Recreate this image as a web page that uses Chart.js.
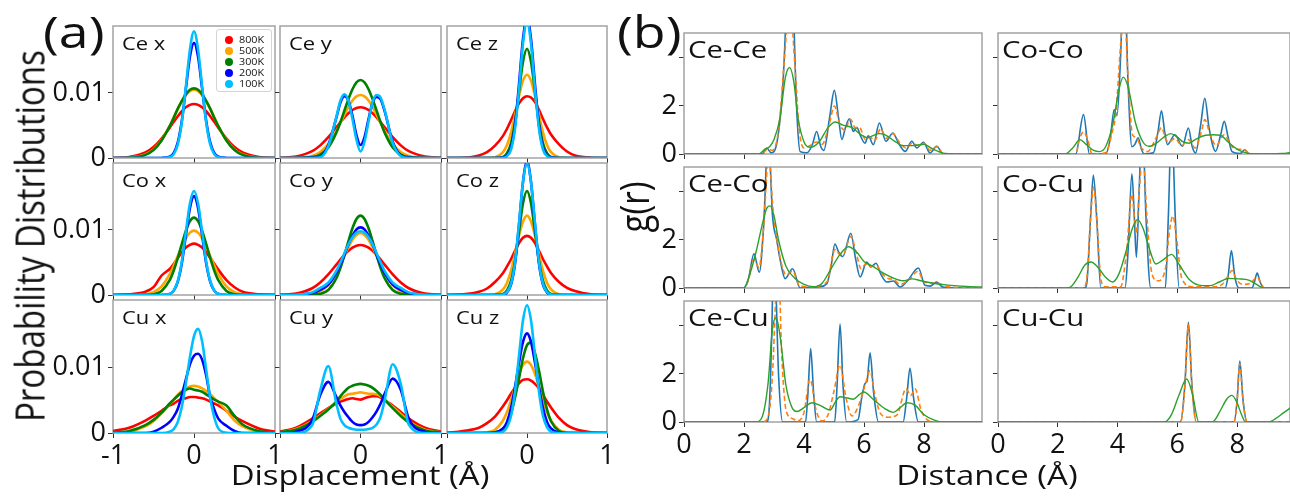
<!DOCTYPE html>
<html>
<head>
<meta charset="utf-8">
<script src="https://cdn.jsdelivr.net/npm/chart.js@4.4.1/dist/chart.umd.min.js"></script>
<style>
  html, body { margin: 0; padding: 0; background: #fff; }
  #fig { position: relative; width: 1290px; height: 496px; overflow: hidden; font-family: 'Open Sans', sans-serif; color: #111; }
  #fig canvas { position: absolute; }
  .t { position: absolute; line-height: 1; white-space: nowrap; transform-origin: 0 0; transform: scaleX(1.22); }
  .c { position: absolute; line-height: 1; white-space: nowrap; transform: translate(-50%, 0) scaleX(1.22); }
  .v { position: absolute; line-height: 1; white-space: nowrap; transform: translate(-50%, -50%) scaleX(1.22) rotate(-90deg); }
  .legend { position: absolute; left: 216px; top: 29px; width: 56px; height: 63px; box-sizing: border-box;
            border: 1px solid #d4d4d4; border-radius: 3px; background: #fff; }
  .legend div { position: absolute; left: 0; height: 10px; }
  .legend i { position: absolute; left: 8px; top: 1px; width: 8px; height: 8px; border-radius: 50%; }
  .legend span { position: absolute; left: 22px; top: 0; font-size: 9px; line-height: 10px; transform-origin: 0 50%; transform: scaleX(1.2); }
</style>
</head>
<body>
<div id="fig"></div>
<script>
// ---- (a) displacement distributions -------------------------------------------------
var dispX = [-1, -0.8, -0.6, -0.5, -0.4, -0.3, -0.25, -0.2, -0.15, -0.1, -0.05, 0,
             0.05, 0.1, 0.15, 0.2, 0.25, 0.3, 0.4, 0.5, 0.6, 0.8, 1];
var temps = ['800K', '500K', '300K', '200K', '100K'];
var dispTicks = [-1, 0, 1];
var dispTickLabelsFirst = ['-1', '0', '1'];
var dispTickLabelsRest = ['', '0', '1'];
var probTicks = [0, 0.01];
var probTickLabels = ['0', '0.01'];

var ceX800 = [0, 0.00014, 0.00084, 0.00168, 0.0030, 0.00467, 0.00557, 0.00643, 0.00719, 0.00779, 0.00817, 0.0083, 0.00817, 0.00779, 0.00719, 0.00643, 0.00557, 0.00467, 0.0030, 0.00168, 0.00084, 0.00014, 0];
var ceX500 = [0, 0.00005, 0.00053, 0.00131, 0.00277, 0.00496, 0.00624, 0.00753, 0.0087, 0.00966, 0.01028, 0.0105, 0.01028, 0.00966, 0.0087, 0.00753, 0.00624, 0.00496, 0.00277, 0.00131, 0.00053, 0.00005, 0];
var ceX300 = [0, 0.00004, 0.00048, 0.00122, 0.0027, 0.0049, 0.0062, 0.0076, 0.0088, 0.0098, 0.0105, 0.0107, 0.0105, 0.0098, 0.0088, 0.0076, 0.0062, 0.0049, 0.0027, 0.00122, 0.00048, 0.00004, 0];
var ceX200 = [0, 0, 0, 0, 0.00001, 0.0002, 0.00078, 0.0024, 0.00575, 0.0107, 0.0156, 0.0177, 0.0156, 0.0107, 0.00575, 0.0024, 0.00078, 0.0002, 0.00001, 0, 0, 0, 0];
var ceX100 = [0, 0, 0, 0, 0, 0.00013, 0.0006, 0.0021, 0.0055, 0.011, 0.0167, 0.0195, 0.0167, 0.011, 0.0055, 0.0021, 0.0006, 0.00013, 0, 0, 0, 0, 0];

var ceY800 = [0.00003, 0.00023, 0.00105, 0.00194, 0.0032, 0.00473, 0.0055, 0.00625, 0.00688, 0.00738, 0.00769, 0.0078, 0.00769, 0.00738, 0.00688, 0.00625, 0.0055, 0.00473, 0.0032, 0.00194, 0.00105, 0.00023, 0.00003];
var ceY500 = [0, 0.00002, 0.00032, 0.00091, 0.00213, 0.00414, 0.00537, 0.00664, 0.00784, 0.00883, 0.00948, 0.0097, 0.00948, 0.00883, 0.00784, 0.00664, 0.00537, 0.00414, 0.00213, 0.00091, 0.00032, 0.00002, 0];
var ceY300 = [0, 0, 0.00013, 0.00053, 0.00162, 0.0039, 0.0055, 0.00728, 0.00906, 0.01058, 0.01163, 0.012, 0.01163, 0.01058, 0.00906, 0.00728, 0.0055, 0.0039, 0.00162, 0.00053, 0.00013, 0, 0];
var ceY200 = [0, 0, 0.00002, 0.0002, 0.002, 0.0062, 0.0085, 0.0095, 0.0088, 0.0065, 0.0035, 0.002, 0.0032, 0.006, 0.0085, 0.0094, 0.009, 0.0072, 0.0025, 0.0004, 0.00002, 0, 0];
var ceY100 = [0, 0, 0, 0.0001, 0.0018, 0.0063, 0.0088, 0.0098, 0.0088, 0.006, 0.0028, 0.001, 0.0025, 0.0056, 0.0086, 0.0097, 0.0093, 0.0074, 0.0023, 0.0003, 0, 0, 0];

var ceZ800 = [0, 0.00005, 0.0004, 0.0009, 0.0019, 0.0034, 0.0045, 0.0058, 0.0072, 0.0084, 0.0092, 0.0095, 0.0093, 0.0086, 0.0074, 0.006, 0.0047, 0.0036, 0.0021, 0.001, 0.0004, 0.00005, 0];
var ceZ500 = [0, 0, 0, 0.00002, 0.00011, 0.0009, 0.002, 0.0039, 0.0066, 0.0095, 0.0119, 0.0128, 0.0119, 0.0095, 0.0066, 0.0039, 0.002, 0.0009, 0.00011, 0.00002, 0, 0, 0];
var ceZ300 = [0, 0, 0, 0, 0.00001, 0.00018, 0.00074, 0.00227, 0.00546, 0.0102, 0.0148, 0.0168, 0.0148, 0.0102, 0.00546, 0.00227, 0.00074, 0.00018, 0.00001, 0, 0, 0, 0];
var ceZ200 = [0, 0, 0, 0, 0, 0.00006, 0.0004, 0.0016, 0.005, 0.0113, 0.0183, 0.0215, 0.0183, 0.0113, 0.005, 0.0016, 0.0004, 0.00006, 0, 0, 0, 0, 0];
var ceZ100 = [0, 0, 0, 0, 0, 0.00004, 0.0003, 0.0013, 0.0045, 0.0105, 0.0176, 0.021, 0.0176, 0.0105, 0.0045, 0.0013, 0.0003, 0.00004, 0, 0, 0, 0, 0];

var coX800 = [0, 0.0001, 0.0005, 0.0012, 0.003, 0.004, 0.0048, 0.0057, 0.0066, 0.0073, 0.0077, 0.0079, 0.0077, 0.0073, 0.0066, 0.0057, 0.0048, 0.0039, 0.0023, 0.0012, 0.0005, 0.0001, 0];
var coX500 = [0, 0, 0.00011, 0.00044, 0.00134, 0.00322, 0.00453, 0.006, 0.00747, 0.00873, 0.00959, 0.0099, 0.00959, 0.00873, 0.00747, 0.006, 0.00453, 0.00322, 0.00134, 0.00044, 0.00011, 0, 0];
var coX300 = [0, 0, 0.00001, 0.00012, 0.00063, 0.00227, 0.00377, 0.00571, 0.00787, 0.0099, 0.01136, 0.0119, 0.01136, 0.0099, 0.00787, 0.00571, 0.00377, 0.00227, 0.00063, 0.00012, 0.00001, 0, 0];
var coX200 = [0, 0, 0, 0, 0.00001, 0.00017, 0.00067, 0.00205, 0.0049, 0.0092, 0.0134, 0.0152, 0.0134, 0.0092, 0.0049, 0.00205, 0.00067, 0.00017, 0.00001, 0, 0, 0, 0];
var coX100 = [0, 0, 0, 0, 0.00001, 0.00018, 0.0007, 0.00216, 0.0052, 0.0097, 0.0141, 0.016, 0.0141, 0.0097, 0.0052, 0.00216, 0.0007, 0.00018, 0.00001, 0, 0, 0, 0];

var coY800 = [0.00003, 0.00022, 0.00104, 0.00192, 0.00316, 0.00467, 0.00544, 0.00617, 0.00679, 0.00728, 0.00759, 0.0077, 0.00759, 0.00728, 0.00679, 0.00617, 0.00544, 0.00467, 0.00316, 0.00192, 0.00104, 0.00022, 0.00003];
var coY500 = [0, 0.00002, 0.00016, 0.00056, 0.00155, 0.00342, 0.00467, 0.00603, 0.00736, 0.00848, 0.00923, 0.0095, 0.00923, 0.00848, 0.00736, 0.00603, 0.00467, 0.00342, 0.00155, 0.00056, 0.00016, 0.00002, 0];
var coY300 = [0, 0, 0.00003, 0.00018, 0.00077, 0.00257, 0.00414, 0.0061, 0.00827, 0.01026, 0.01169, 0.0122, 0.01169, 0.01026, 0.00827, 0.0061, 0.00414, 0.00257, 0.00077, 0.00018, 0.00003, 0, 0];
var coY200 = [0, 0.00003, 0.0003, 0.0008, 0.0016, 0.0034, 0.0047, 0.0062, 0.0078, 0.0091, 0.0101, 0.0104, 0.0101, 0.0091, 0.0078, 0.0062, 0.0047, 0.0034, 0.0016, 0.0008, 0.0003, 0.00003, 0];
var coY100 = [0, 0.00005, 0.0004, 0.0011, 0.0019, 0.0037, 0.005, 0.0064, 0.0078, 0.0089, 0.0096, 0.0098, 0.0096, 0.0089, 0.0078, 0.0064, 0.005, 0.0037, 0.0019, 0.0011, 0.0004, 0.00005, 0];

var coZ800 = [0, 0.0001, 0.0005, 0.001, 0.002, 0.0034, 0.0044, 0.0055, 0.0068, 0.008, 0.0088, 0.0091, 0.0088, 0.008, 0.0068, 0.0055, 0.0044, 0.0034, 0.002, 0.0011, 0.0006, 0.0001, 0];
var coZ500 = [0, 0, 0, 0.00002, 0.00011, 0.00085, 0.0019, 0.0037, 0.0063, 0.0091, 0.0113, 0.0122, 0.0113, 0.0091, 0.0063, 0.0037, 0.0019, 0.00085, 0.00011, 0.00002, 0, 0, 0];
var coZ300 = [0, 0, 0, 0, 0.00001, 0.00018, 0.0007, 0.00216, 0.0052, 0.0097, 0.0141, 0.016, 0.0141, 0.0097, 0.0052, 0.00216, 0.0007, 0.00018, 0.00001, 0, 0, 0, 0];
var coZ200 = [0, 0, 0, 0, 0, 0.00006, 0.0004, 0.0016, 0.0048, 0.0108, 0.0174, 0.0205, 0.0174, 0.0108, 0.0048, 0.0016, 0.0004, 0.00006, 0, 0, 0, 0, 0];
var coZ100 = [0, 0, 0, 0, 0, 0.00008, 0.00045, 0.0017, 0.005, 0.011, 0.0174, 0.0203, 0.0174, 0.011, 0.005, 0.0017, 0.00045, 0.00008, 0, 0, 0, 0, 0];

var cuX800 = [0.0003, 0.0008, 0.0019, 0.0026, 0.0034, 0.0042, 0.0045, 0.0049, 0.0052, 0.0053, 0.0055, 0.0055, 0.0054, 0.0053, 0.0051, 0.0048, 0.0045, 0.0042, 0.0034, 0.0025, 0.0018, 0.0007, 0.0002];
var cuX500 = [0.00003, 0.0002, 0.001, 0.0018, 0.003, 0.0044, 0.0051, 0.0058, 0.0064, 0.0068, 0.0071, 0.0072, 0.0071, 0.0068, 0.0064, 0.0059, 0.0053, 0.0047, 0.0034, 0.0019, 0.001, 0.0002, 0];
var cuX300 = [0.00005, 0.0003, 0.0012, 0.002, 0.0031, 0.0045, 0.0051, 0.0057, 0.0062, 0.0066, 0.0068, 0.0066, 0.0065, 0.0063, 0.0059, 0.0055, 0.0051, 0.0048, 0.0042, 0.0026, 0.0013, 0.0003, 0];
var cuX200 = [0, 0, 0, 0.0002, 0.0008, 0.0017, 0.0025, 0.0037, 0.0058, 0.0082, 0.0105, 0.0118, 0.0121, 0.0112, 0.0088, 0.0055, 0.0036, 0.0022, 0.0011, 0.0003, 0, 0, 0];
var cuX100 = [0, 0, 0, 0, 0, 0.0002, 0.0006, 0.0017, 0.004, 0.0076, 0.0116, 0.0148, 0.0159, 0.014, 0.0097, 0.0053, 0.0024, 0.0007, 0.00005, 0, 0, 0, 0];

var cuY800 = [0.0002, 0.0008, 0.0022, 0.003, 0.0038, 0.0045, 0.0048, 0.005, 0.0052, 0.0053, 0.0052, 0.0051, 0.0053, 0.0055, 0.0056, 0.0056, 0.0054, 0.005, 0.0042, 0.0032, 0.0022, 0.0008, 0.0002];
var cuY500 = [0.0001, 0.0006, 0.0018, 0.0027, 0.0037, 0.0047, 0.0052, 0.0056, 0.0059, 0.006, 0.0061, 0.0062, 0.0061, 0.006, 0.006, 0.0059, 0.0056, 0.0051, 0.004, 0.0029, 0.0018, 0.0005, 0.0001];
var cuY300 = [0.0001, 0.0005, 0.0017, 0.0026, 0.0036, 0.0048, 0.0056, 0.0063, 0.0069, 0.0072, 0.0074, 0.0075, 0.0074, 0.0072, 0.0069, 0.0064, 0.0058, 0.0051, 0.0038, 0.0026, 0.0016, 0.0004, 0.0001];
var cuY200 = [0, 0.0002, 0.002, 0.0058, 0.0078, 0.0055, 0.0042, 0.0032, 0.0024, 0.0017, 0.0013, 0.0012, 0.0013, 0.0017, 0.0024, 0.0033, 0.0045, 0.006, 0.0083, 0.0066, 0.0022, 0.0002, 0];
var cuY100 = [0, 0, 0.0012, 0.0065, 0.0102, 0.0045, 0.0022, 0.0012, 0.0008, 0.0006, 0.0005, 0.0005, 0.0005, 0.0006, 0.0008, 0.0013, 0.0025, 0.005, 0.0105, 0.0075, 0.0013, 0, 0];

var cuZ800 = [0, 0.0003, 0.0008, 0.0015, 0.0025, 0.0041, 0.005, 0.006, 0.0069, 0.0076, 0.0081, 0.0082, 0.008, 0.0075, 0.0068, 0.0058, 0.0048, 0.0039, 0.0023, 0.0012, 0.0006, 0.0001, 0];
var cuZ500 = [0, 0, 0, 0.0001, 0.0005, 0.0019, 0.0032, 0.005, 0.007, 0.009, 0.0104, 0.0109, 0.0104, 0.009, 0.007, 0.005, 0.0032, 0.0019, 0.0005, 0.0001, 0, 0, 0];
var cuZ300 = [0, 0, 0, 0, 0.0001, 0.0006, 0.0014, 0.0029, 0.0054, 0.0083, 0.0114, 0.0134, 0.0138, 0.0122, 0.0095, 0.0063, 0.0036, 0.0018, 0.0003, 0, 0, 0, 0];
var cuZ200 = [0, 0, 0, 0, 0.00006, 0.0007, 0.0017, 0.0038, 0.007, 0.0107, 0.0139, 0.0152, 0.0139, 0.0107, 0.007, 0.0038, 0.0017, 0.0007, 0.00006, 0, 0, 0, 0];
var cuZ100 = [0, 0, 0, 0, 0, 0.0002, 0.0009, 0.0026, 0.0063, 0.0118, 0.0172, 0.0195, 0.0172, 0.0118, 0.0063, 0.0026, 0.0009, 0.0002, 0, 0, 0, 0, 0];

// ---- (b) pair distribution functions g(r): [distance, g] ---------------------------
var distTicks = [0, 2, 4, 6, 8];
var distTickLabels = ['0', '2', '4', '6', '8'];
var grTicks = [0, 2, 4];
var grTickLabels = ['0', '2', ''];

var ceCeSolid = [[0,0],[2.6,0],[2.76,0.25],[2.9,0.05],[3.1,0.5],[3.3,3],[3.45,7],[3.53,8],[3.62,7],[3.75,2],[3.87,0.1],[4.1,0.05],[4.28,0.4],[4.42,0.94],[4.56,0.3],[4.66,0.15],[4.85,1.5],[5.01,2.65],[5.15,1.5],[5.26,0.6],[5.38,1.1],[5.51,1.47],[5.64,0.94],[5.76,1.1],[5.9,0.7],[6.03,0.45],[6.14,0.76],[6.31,0.39],[6.51,1.29],[6.73,0.53],[6.96,0.875],[7.15,0.45],[7.37,0.11],[7.59,0.53],[7.76,0.25],[7.98,0.49],[8.2,0.04],[8.42,0.32],[8.64,0],[9.95,0]];
var ceCeDashed = [[0,0],[2.6,0],[2.78,0.2],[2.95,0.15],[3.15,1],[3.35,4],[3.52,6.5],[3.68,4],[3.84,1],[4.0,0.25],[4.2,0.35],[4.42,0.5],[4.6,0.4],[4.85,1.3],[5.01,2.0],[5.2,1.2],[5.35,1.0],[5.55,1.45],[5.7,1.1],[5.85,1.1],[6.05,0.6],[6.2,0.7],[6.35,0.55],[6.55,1.05],[6.75,0.65],[6.95,0.85],[7.2,0.45],[7.4,0.25],[7.6,0.45],[7.8,0.35],[8.0,0.45],[8.2,0.15],[8.42,0.3],[8.65,0],[9.95,0]];
var ceCeSmooth = [[0,0],[2.5,0],[2.7,0.2],[2.85,0.3],[3.0,0.6],[3.2,1.5],[3.38,3.2],[3.52,3.6],[3.66,3.0],[3.8,1.5],[4.0,0.5],[4.2,0.28],[4.5,0.5],[4.8,1.1],[5.05,1.33],[5.3,1.2],[5.6,1.1],[5.9,0.8],[6.1,0.68],[6.5,0.85],[6.7,0.8],[7.0,0.55],[7.3,0.35],[7.6,0.35],[8.0,0.4],[8.3,0.2],[8.7,0.02],[9.0,0],[9.95,0]];

var coCoSolid = [[0,0],[2.6,0],[2.86,1.64],[3.06,0],[3.6,0],[3.75,0.6],[3.89,1.85],[3.98,1.6],[4.1,4],[4.22,8],[4.35,3],[4.48,0.3],[4.58,0.4],[4.69,0.67],[4.8,0.2],[4.89,0],[5.2,0.05],[5.35,0.9],[5.47,1.8],[5.58,0.9],[5.67,0.39],[5.92,0.8],[6.17,0.32],[6.37,1.08],[6.5,0.3],[6.61,0.04],[6.78,1.2],[6.92,2.32],[7.06,1.1],[7.28,0.11],[7.45,0.8],[7.57,1.36],[7.7,0.7],[7.83,0.1],[8.1,0.02],[8.26,0.18],[8.4,0],[9.8,0]];
var coCoDashed = [[0,0],[2.6,0],[2.72,0.6],[2.86,0.92],[3.0,0.6],[3.15,0],[3.6,0.05],[3.8,0.8],[3.95,1.8],[4.1,4.5],[4.22,6],[4.36,3],[4.5,0.8],[4.62,0.7],[4.8,0.25],[5.0,0.1],[5.3,0.7],[5.47,1.1],[5.62,0.6],[5.72,0.5],[5.92,0.65],[6.15,0.35],[6.37,0.6],[6.6,0.25],[6.8,0.9],[6.92,1.43],[7.1,0.8],[7.3,0.35],[7.57,0.8],[7.8,0.35],[8.0,0.2],[8.2,0.2],[8.45,0],[9.8,0]];
var coCoSmooth = [[0,0],[2.25,0],[2.5,0.25],[2.74,0.6],[2.95,0.4],[3.2,0.15],[3.39,0.1],[3.6,0.3],[3.85,1.3],[4.05,2.7],[4.19,3.2],[4.35,2.8],[4.6,1.3],[4.85,0.5],[5.06,0.32],[5.3,0.45],[5.55,0.7],[5.78,0.85],[6.0,0.7],[6.2,0.5],[6.39,0.45],[6.6,0.6],[6.94,0.78],[7.2,0.8],[7.44,0.78],[7.7,0.5],[8.0,0.2],[8.17,0.1],[8.4,0.02],[8.8,0],[9.2,0],[9.5,0.02],[9.8,0.06]];

var ceCoSolid = [[0,0],[1.98,0],[2.15,0.4],[2.33,1.42],[2.51,0.66],[2.65,2.5],[2.81,6.5],[2.95,3],[3.09,2.0],[3.2,1.2],[3.37,0.39],[3.62,0.8],[3.87,0],[4.2,0.02],[4.5,0.05],[4.76,0.18],[4.9,0.9],[5.03,1.83],[5.15,1.5],[5.29,1.31],[5.56,2.28],[5.72,1.2],[5.87,0.46],[6.09,1.08],[6.22,0.88],[6.4,1.03],[6.55,0.6],[6.76,0.25],[6.98,0.29],[7.2,0.04],[7.45,0.3],[7.81,0.83],[8.03,0.11],[8.2,0.08],[8.42,0.25],[8.6,0.05],[8.76,0.02],[9.95,0]];
var ceCoDashed = [[0,0],[2.0,0],[2.15,0.35],[2.33,1.2],[2.5,0.85],[2.65,2.5],[2.82,5.5],[2.97,3.2],[3.1,2.0],[3.25,1.0],[3.4,0.55],[3.62,0.7],[3.85,0.1],[4.2,0.05],[4.76,0.25],[5.03,1.6],[5.2,1.4],[5.3,1.4],[5.56,2.15],[5.75,1.4],[5.9,0.8],[6.05,1.0],[6.25,0.9],[6.4,0.95],[6.6,0.6],[6.8,0.4],[7.0,0.35],[7.2,0.15],[7.5,0.35],[7.8,0.7],[8.0,0.25],[8.42,0.2],[8.8,0.05],[9.95,0]];
var ceCoSmooth = [[0,0],[2.0,0],[2.2,0.6],[2.4,1.5],[2.6,2.6],[2.75,3.3],[2.87,3.42],[3.0,3.0],[3.15,2.0],[3.4,0.9],[3.7,0.4],[4.0,0.15],[4.31,0.05],[4.6,0.2],[4.9,0.8],[5.2,1.4],[5.48,1.72],[5.75,1.5],[6.0,1.1],[6.3,0.9],[6.6,0.65],[7.0,0.4],[7.3,0.3],[7.6,0.38],[7.9,0.3],[8.3,0.2],[8.8,0.12],[9.4,0.06],[9.95,0.04]];

var coCuSolid = [[0,0],[2.9,0],[2.98,0.3],[3.1,3],[3.19,4.7],[3.3,3],[3.44,0],[4.25,0],[4.35,1.5],[4.48,4.76],[4.56,3],[4.63,1.28],[4.72,4],[4.83,7],[4.95,3],[5.11,0],[5.6,0],[5.7,3],[5.81,7],[5.93,3],[6.06,0],[7.6,0],[7.7,0.5],[7.81,1.56],[7.92,0.5],[8.06,0],[8.5,0],[8.58,0.25],[8.67,0.62],[8.77,0.25],[8.89,0],[9.8,0]];
var coCuDashed = [[0,0],[2.85,0],[2.98,0.5],[3.1,3],[3.2,4.2],[3.32,2.5],[3.45,0.3],[3.6,0.05],[4.1,0.05],[4.3,1.5],[4.48,3.9],[4.56,3.0],[4.63,2.26],[4.72,4],[4.85,5.6],[4.98,3],[5.15,0.6],[5.35,0.3],[5.6,0.8],[5.72,2.2],[5.85,3.0],[5.98,2],[6.15,0.4],[6.5,0.05],[7.2,0.05],[7.5,0.15],[7.7,0.5],[7.83,0.73],[7.98,0.35],[8.2,0.15],[8.45,0.2],[8.67,0.45],[8.8,0.2],[8.92,0],[9.8,0]];
var coCuSmooth = [[0,0],[2.3,0],[2.44,0.05],[2.7,0.5],[2.9,0.95],[3.11,1.08],[3.35,0.85],[3.6,0.45],[3.83,0.25],[4.05,0.6],[4.3,1.6],[4.5,2.5],[4.67,2.85],[4.85,2.5],[5.05,1.7],[5.28,1.0],[5.5,1.15],[5.81,1.4],[6.05,1.0],[6.4,0.35],[6.83,0.1],[7.1,0.1],[7.4,0.25],[7.72,0.4],[8.05,0.38],[8.39,0.33],[8.65,0.15],[8.89,0],[9.8,0]];

var ceCuSolid = [[0,0],[2.75,0],[2.85,0.8],[2.93,4],[2.98,7],[3.05,6],[3.15,2],[3.29,0],[4.05,0],[4.13,1.2],[4.22,3.06],[4.32,1.2],[4.42,0],[5.02,0],[5.1,1.5],[5.2,4.08],[5.3,1.5],[5.42,0],[5.8,0.1],[5.92,1.0],[6.03,1.6],[6.1,1.7],[6.2,2.88],[6.32,1.2],[6.48,0],[7.3,0],[7.42,1.0],[7.53,2.24],[7.65,1.0],[7.81,0],[9.95,0]];
var ceCuDashed = [[0,0],[2.6,0],[2.8,0.2],[2.95,2],[3.05,5],[3.14,7],[3.25,3],[3.4,0.5],[3.6,0.15],[3.8,0.05],[4.0,0.4],[4.2,1.8],[4.4,0.5],[4.6,0.05],[4.8,0.3],[5.0,1.3],[5.2,2.38],[5.4,1.0],[5.6,0.25],[5.85,0.8],[6.05,1.6],[6.2,2.14],[6.35,1.2],[6.55,0.35],[6.8,0.2],[7.1,0.3],[7.4,1.39],[7.55,1.1],[7.7,1.38],[7.9,0.5],[8.1,0.1],[8.4,0],[9.95,0]];
var ceCuSmooth = [[0,0],[2.4,0],[2.6,0.2],[2.8,1.6],[2.95,3.9],[3.07,4.34],[3.2,3.6],[3.4,1.5],[3.6,0.6],[3.76,0.44],[4.0,0.6],[4.26,0.8],[4.55,0.68],[4.87,0.5],[5.05,0.85],[5.2,1.05],[5.45,1.0],[5.64,0.95],[5.85,1.15],[5.99,1.25],[6.3,0.95],[6.7,0.55],[6.98,0.4],[7.2,0.6],[7.43,0.8],[7.7,0.7],[8.0,0.3],[8.3,0.1],[8.6,0],[9.95,0]];

var cuCuSolid = [[0,0],[6.1,0],[6.25,1.5],[6.37,4.15],[6.49,1.5],[6.63,0],[7.9,0],[8.0,0.9],[8.09,2.54],[8.2,0.9],[8.33,0],[9.8,0]];
var cuCuDashed = [[0,0],[6.11,0],[6.25,1.45],[6.37,4.05],[6.49,1.45],[6.63,0],[7.9,0],[8.0,0.85],[8.09,2.42],[8.2,0.85],[8.33,0],[9.8,0]];
var cuCuSmooth = [[0,0],[5.56,0],[5.8,0.3],[6.05,1.1],[6.31,1.79],[6.5,1.2],[6.72,0],[7.17,0],[7.45,0.5],[7.65,0.95],[7.83,1.11],[8.0,0.8],[8.15,0.3],[8.28,0],[9.06,0],[9.3,0.15],[9.55,0.38],[9.8,0.6]];

// ---- layout / drawing ----------------------------------------------------------------
(function () {
  var fig = document.getElementById('fig');
  var FONT = "'Open Sans', sans-serif";
  var PAD = { l: 90, r: 24, t: 24, b: 50 };
  var tempColors = ['#ff0000', '#ffa500', '#008000', '#0000ff', '#00bfff'];

  // spines drawn under the data, like the original
  var framePlugin = {
    id: 'frame',
    beforeDatasetsDraw: function (chart) {
      var a = chart.chartArea, c = chart.ctx;
      c.save();
      c.strokeStyle = '#a3a3a3';
      c.lineWidth = 1.5;
      c.strokeRect(a.left, a.top, a.right - a.left, a.bottom - a.top);
      c.restore();
    }
  };

  function axis(min, max, ticks, labels, isX) {
    return {
      type: 'linear', min: min, max: max,
      afterBuildTicks: function (s) { s.ticks = ticks.map(function (v) { return { value: v }; }); },
      afterFit: function (s) { if (isX) s.height = PAD.b; else s.width = PAD.l; },
      grid: { drawOnChartArea: false, drawTicks: true, tickLength: 5, color: '#333', lineWidth: 1 },
      border: { display: false },
      ticks: {
        autoSkip: false, maxRotation: 0, padding: 2, color: '#111',
        font: { family: FONT, size: 27 },
        callback: function (v, i) { return labels ? labels[i] : ''; }
      }
    };
  }

  function addText(cls, text, left, top, size) {
    var d = document.createElement('div');
    d.className = cls;
    d.textContent = text;
    d.style.left = left + 'px';
    d.style.top = top + 'px';
    d.style.fontSize = size + 'px';
    fig.appendChild(d);
    return d;
  }

  function makePanel(box, x, y, datasets) {
    var cv = document.createElement('canvas');
    var w = box.w + PAD.l + PAD.r, h = box.h + PAD.t + PAD.b;
    cv.width = w; cv.height = h;
    cv.style.left = (box.l - PAD.l) + 'px';
    cv.style.top = (box.t - PAD.t) + 'px';
    cv.style.width = w + 'px'; cv.style.height = h + 'px';
    fig.appendChild(cv);
    new Chart(cv, {
      type: 'line',
      data: { datasets: datasets },
      options: {
        responsive: false, animation: false, devicePixelRatio: 1,
        layout: { padding: { left: 0, top: PAD.t, right: PAD.r, bottom: 0 } },
        plugins: { legend: { display: false }, tooltip: { enabled: false } },
        scales: { x: x, y: y }
      },
      plugins: [framePlugin]
    });
  }

  // (a) grid of displacement distributions
  var aPanels = [
    ['Ce x', [ceX800, ceX500, ceX300, ceX200, ceX100]],
    ['Ce y', [ceY800, ceY500, ceY300, ceY200, ceY100]],
    ['Ce z', [ceZ800, ceZ500, ceZ300, ceZ200, ceZ100]],
    ['Co x', [coX800, coX500, coX300, coX200, coX100]],
    ['Co y', [coY800, coY500, coY300, coY200, coY100]],
    ['Co z', [coZ800, coZ500, coZ300, coZ200, coZ100]],
    ['Cu x', [cuX800, cuX500, cuX300, cuX200, cuX100]],
    ['Cu y', [cuY800, cuY500, cuY300, cuY200, cuY100]],
    ['Cu z', [cuZ800, cuZ500, cuZ300, cuZ200, cuZ100]]
  ];
  var aCols = [{ l: 113, w: 162 }, { l: 280, w: 161 }, { l: 447, w: 160 }];
  var aRows = [{ t: 26, h: 132 }, { t: 163, h: 132 }, { t: 300, h: 133 }];

  aPanels.forEach(function (p, k) {
    var c = k % 3, r = Math.floor(k / 3);
    var box = { l: aCols[c].l, w: aCols[c].w, t: aRows[r].t, h: aRows[r].h };
    var ds = p[1].map(function (vals, i) {
      return {
        label: temps[i],
        data: vals.map(function (v, j) { return { x: dispX[j], y: v }; }),
        borderColor: tempColors[i], borderWidth: 2.6, pointRadius: 0,
        cubicInterpolationMode: 'monotone', order: 4 - i
      };
    });
    var xl = r === 2 ? (c === 0 ? dispTickLabelsFirst : dispTickLabelsRest) : null;
    makePanel(box,
      axis(-1, 1, dispTicks, xl, true),
      axis(0, 0.0203, probTicks, c === 0 ? probTickLabels : null, false),
      ds);
    addText('t', p[0], box.l + 9, box.t + 8, 18);
  });

  // legend of the temperatures (inside the Ce x panel)
  var lg = document.createElement('div');
  lg.className = 'legend';
  temps.forEach(function (t, i) {
    var row = document.createElement('div');
    row.style.top = (5 + i * 11) + 'px';
    row.innerHTML = '<i style="background:' + tempColors[i] + '"></i><span>' + t + '</span>';
    lg.appendChild(row);
  });
  fig.appendChild(lg);

  // (b) grid of g(r)
  var bPanels = [
    ['Ce-Ce', [ceCeSolid, ceCeDashed, ceCeSmooth]],
    ['Co-Co', [coCoSolid, coCoDashed, coCoSmooth]],
    ['Ce-Co', [ceCoSolid, ceCoDashed, ceCoSmooth]],
    ['Co-Cu', [coCuSolid, coCuDashed, coCuSmooth]],
    ['Ce-Cu', [ceCuSolid, ceCuDashed, ceCuSmooth]],
    ['Cu-Cu', [cuCuSolid, cuCuDashed, cuCuSmooth]]
  ];
  var bCols = [{ l: 684, w: 298, xmax: 9.93 }, { l: 998, w: 292, xmax: 9.77 }];
  var bRows = [{ t: 33, h: 121 }, { t: 167, h: 121 }, { t: 301, h: 121 }];
  var bStyles = [
    { color: '#1f77b4', width: 1.6, dash: [], order: 2 },
    { color: '#ff7f0e', width: 1.6, dash: [5, 3], order: 1 },
    { color: '#2ca02c', width: 1.4, dash: [], order: 0 }
  ];

  bPanels.forEach(function (p, k) {
    var c = k % 2, r = Math.floor(k / 2);
    var box = { l: bCols[c].l, w: bCols[c].w, t: bRows[r].t, h: bRows[r].h };
    var ds = p[1].map(function (pts, i) {
      var st = bStyles[i];
      return {
        data: pts.map(function (q) { return { x: q[0], y: q[1] }; }),
        borderColor: st.color, borderWidth: st.width, borderDash: st.dash, pointRadius: 0,
        cubicInterpolationMode: 'monotone', order: st.order
      };
    });
    makePanel(box,
      axis(0, bCols[c].xmax, distTicks, r === 2 ? distTickLabels : null, true),
      axis(0, 5.04, grTicks, c === 0 ? grTickLabels : null, false),
      ds);
    addText('t', p[0], box.l + 4, box.t + 4, 24);
  });

  // figure labels and axis titles
  addText('t', '(a)', 43, 9, 44);
  addText('t', '(b)', 617, 9, 44);
  addText('c', 'Displacement (Å)', 360, 461, 27);
  addText('c', 'Distance (Å)', 987, 461, 27);
  addText('v', 'Probability Distributions', 29, 236, 33);
  addText('v', 'g(r)', 634, 207, 33);
})();
</script>
</body>
</html>
